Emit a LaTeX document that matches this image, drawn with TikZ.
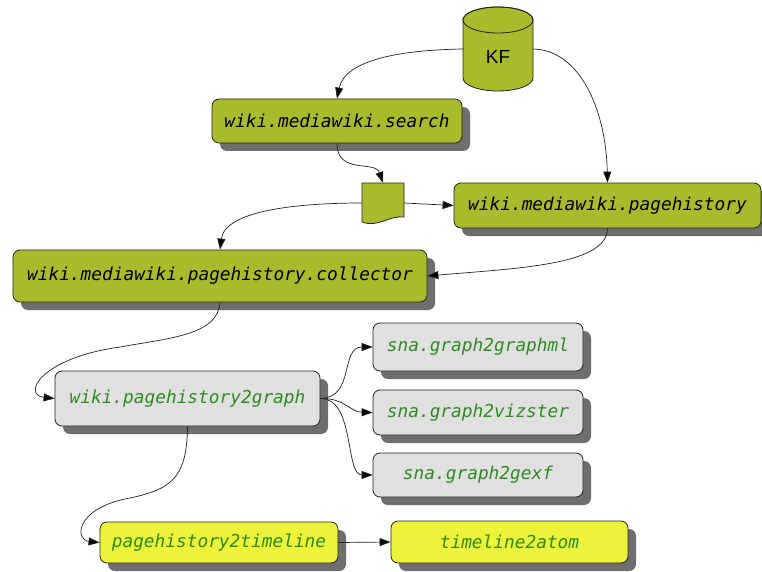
\documentclass[tikz,border=0pt]{standalone}
\usepackage{fontspec}
\newfontfamily\monoit{DejaVu Sans Mono}[ItalicFont={DejaVu Sans Mono Oblique}]
\newfontfamily\kffont{Liberation Sans}
\usetikzlibrary{shadows,arrows.meta}
\definecolor{olivec}{HTML}{A9BB2D}
\definecolor{grayc}{HTML}{E0E0E0}
\definecolor{yellowc}{HTML}{EDF23A}
\definecolor{shadowc}{HTML}{6E6E6E}
\definecolor{greentext}{HTML}{2E8B22}
\definecolor{edgec}{HTML}{222222}
\tikzset{
  box/.style={draw=edgec, line width=0.8pt, rounded corners=7pt, inner sep=0pt,
    drop shadow={shadow xshift=8pt, shadow yshift=-8pt, fill=shadowc, opacity=1},
    font=\monoit\itshape\fontsize{17.8}{20}\selectfont},
  olivebox/.style={box, fill=olivec, text=black},
  graybox/.style={box, fill=grayc, text=greentext},
  yellowbox/.style={box, fill=yellowc, text=greentext},
  conn/.style={draw=edgec, line width=0.7pt, -{Triangle[length=11pt,width=8pt,fill=black]}},
  shapeline/.style={draw=edgec, line width=0.8pt, fill=olivec}
}
\begin{document}
\begin{tikzpicture}[x=1pt,y=-1pt]
\useasboundingbox (0,0) rectangle (762,572);
\fill[white] (0,0) rectangle (762,572);

% KF cylinder
\path[shapeline] (463,20) -- (463,78) arc(180:0:35 and 13) -- (533,20) arc(0:-180:35 and 13) -- cycle;
\draw[edgec, line width=0.8pt] (498,20) ellipse (35 and 13);
\node[inner sep=0pt, font=\kffont\fontsize{19}{22}\selectfont] (kf) at (498,57) {KF};
\coordinate (kfL) at (463,49);
\coordinate (kfR) at (533,49);

% document shape
\path[shapeline] (362,183) -- (404,183) -- (404,217)
  .. controls (390,215) and (378,228) .. (362,222) -- cycle;
\node[minimum width=42pt, minimum height=40pt, inner sep=0pt] (doc) at (383,203) {};

% boxes
\node[olivebox, minimum width=250pt, minimum height=44pt] (search) at (337,121) {wiki.mediawiki.search};
\node[olivebox, minimum width=307pt, minimum height=45pt] (phist) at (607.5,205.5) {wiki.mediawiki.pagehistory};
\node[olivebox, minimum width=414pt, minimum height=52pt] (coll) at (220,276) {wiki.mediawiki.pagehistory.collector};
\node[graybox, minimum width=265pt, minimum height=55pt] (p2g) at (187.5,398.5) {wiki.pagehistory2graph};
\node[graybox, minimum width=210pt, minimum height=48pt] (gml) at (478,347) {sna.graph2graphml};
\node[graybox, minimum width=210pt, minimum height=45pt] (viz) at (478,412.5) {sna.graph2vizster};
\node[graybox, minimum width=210pt, minimum height=44pt] (gexf) at (478,475) {sna.graph2gexf};
\node[yellowbox, minimum width=238pt, minimum height=41pt] (p2t) at (219,542.5) {pagehistory2timeline};
\node[yellowbox, minimum width=237pt, minimum height=42pt] (t2a) at (509.5,542) {timeline2atom};

% connectors
\draw[conn] (kfL) .. controls (400,50) and (345,60) .. (search.north);
\draw[conn] (kfR) .. controls (580,50) and (606,110) .. (phist.north);
\draw[conn] (search.south) .. controls (337,175) and (375,160) .. (doc.north);
\draw[conn] (doc.east) -- (phist.west);
\draw[conn] (doc.west) .. controls (300,203) and (225,210) .. (coll.north);
\draw[conn] (phist.south) .. controls (607,265) and (520,268) .. (coll.east);
\draw[conn] (coll.south) .. controls (218,335) and (170,338) .. (120,347)
  .. controls (40,358) and (22,395) .. (p2g.west);
\draw[conn] (p2g.south) .. controls (187,480) and (170,490) .. (125,499)
  .. controls (75,510) and (75,540) .. (p2t.west);
\draw[conn] (p2g.east) .. controls (355,398) and (340,347) .. (gml.west);
\draw[conn] (p2g.east) .. controls (345,398) and (350,412) .. (viz.west);
\draw[conn] (p2g.east) .. controls (355,398) and (345,475) .. (gexf.west);
\draw[conn] (p2t.east) -- (t2a.west);
\end{tikzpicture}
\end{document}
